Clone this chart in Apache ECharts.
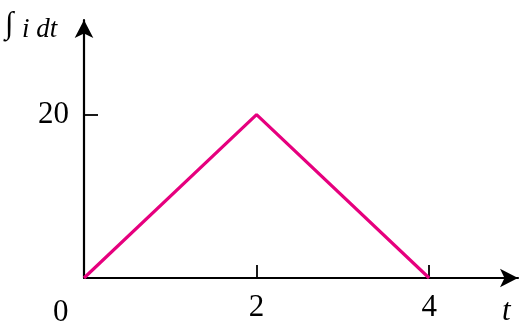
<!DOCTYPE html>
<html lang="en">
<head>
    <meta charset="UTF-8">
    <title>Integral of i dt</title>
    <script src="https://cdn.jsdelivr.net/npm/echarts@6.0.0/dist/echarts.min.js"></script>
    <style>
        body { margin: 0; background: #ffffff; }
        #chart { width: 520px; height: 323px; }
    </style>
</head>
<body>
    <div id="chart"></div>
    <script>
        // datos
        const tValues = [0, 2, 4];
        const integralValues = [0, 20, 0];
        const xTickValues = [2, 4];
        const yTickValues = [20];

        const serif = '"Liberation Serif", "DejaVu Serif", serif';
        const chart = echarts.init(document.getElementById('chart'));

        chart.setOption({
            animation: false,
            grid: { left: 84, right: 2, top: 20, bottom: 39 },
            xAxis: {
                type: 'value',
                min: 0,
                max: 5.03,
                axisLine: {
                    lineStyle: { color: '#000', width: 2.2 },
                    symbol: ['none', 'arrow'],
                    symbolSize: [14, 18]
                },
                axisTick: {
                    inside: true, length: 13,
                    lineStyle: { color: '#000', width: 1.8 },
                    customValues: xTickValues
                },
                axisLabel: {
                    customValues: xTickValues,
                    margin: 14,
                    color: '#000',
                    fontFamily: serif,
                    fontSize: 31
                },
                splitLine: { show: false }
            },
            yAxis: {
                type: 'value',
                min: 0,
                max: 31.6,
                axisLine: {
                    lineStyle: { color: '#000', width: 2.2 },
                    symbol: ['none', 'arrow'],
                    symbolSize: [14, 18]
                },
                axisTick: {
                    inside: true, length: 14,
                    lineStyle: { color: '#000', width: 1.8 },
                    customValues: yTickValues
                },
                axisLabel: {
                    customValues: yTickValues,
                    margin: 15,
                    color: '#000',
                    fontFamily: serif,
                    fontSize: 31
                },
                splitLine: { show: false }
            },
            graphic: [
                {
                    type: 'text', left: 5, top: 9,
                    style: { text: '∫', font: 'italic 31px ' + serif, fill: '#000' }
                },
                {
                    type: 'text', left: 22, top: 16,
                    style: { text: 'i dt', font: 'italic 27px ' + serif, fill: '#000' }
                },
                {
                    type: 'text', left: 53, top: 297,
                    style: { text: '0', font: '31px ' + serif, fill: '#000' }
                },
                {
                    type: 'text', left: 502, top: 296,
                    style: { text: 't', font: 'italic 31px ' + serif, fill: '#000' }
                }
            ],
            series: [{
                type: 'line',
                data: tValues.map((t, i) => [t, integralValues[i]]),
                showSymbol: false,
                lineStyle: { color: '#e6007e', width: 3.2 }
            }]
        });
    </script>
</body>
</html>
